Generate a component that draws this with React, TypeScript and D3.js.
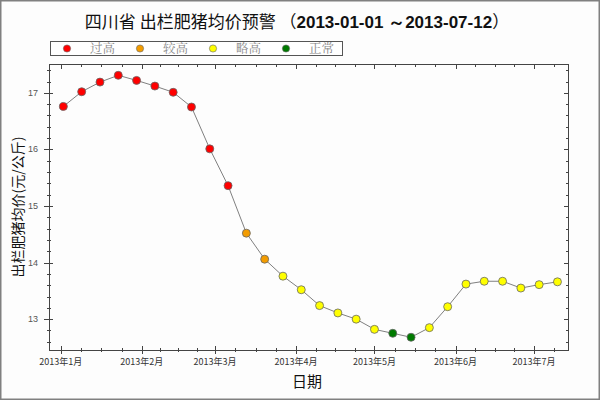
import React, { useEffect, useRef } from 'react';
import * as d3 from 'd3';

// weekly average price of slaughter pigs, Sichuan
const dates = [
  '2013-01-02', '2013-01-09', '2013-01-16', '2013-01-23', '2013-01-30',
  '2013-02-06', '2013-02-13', '2013-02-20', '2013-02-27', '2013-03-06',
  '2013-03-13', '2013-03-20', '2013-03-27', '2013-04-03', '2013-04-10',
  '2013-04-17', '2013-04-24', '2013-05-01', '2013-05-08', '2013-05-15',
  '2013-05-22', '2013-05-29', '2013-06-05', '2013-06-12', '2013-06-19',
  '2013-06-26', '2013-07-03', '2013-07-10'
];
const prices = [
  16.76, 17.02, 17.19, 17.31, 17.22, 17.12, 17.01, 16.75, 16.01, 15.36,
  14.52, 14.06, 13.76, 13.52, 13.24, 13.11, 13.00, 12.82, 12.75, 12.68,
  12.85, 13.22, 13.62, 13.67, 13.67, 13.55, 13.61, 13.66
];
const levels = [
  '过高', '过高', '过高', '过高', '过高', '过高', '过高', '过高', '过高', '过高',
  '较高', '较高', '略高', '略高', '略高', '略高', '略高', '略高', '正常', '正常',
  '略高', '略高', '略高', '略高', '略高', '略高', '略高', '略高'
];
const legendLabels = ['过高', '较高', '略高', '正常'];
const legendColors = ['#ff0000', '#f39c00', '#ffff00', '#007a00'];
const monthLabels = ['2013年1月', '2013年2月', '2013年3月', '2013年4月', '2013年5月', '2013年6月', '2013年7月'];
const yTicks = [13, 14, 15, 16, 17];

const W = 600, H = 400;
const left = 49, right = 569, top = 64, bottom = 350;
const cjk = '"Noto Sans CJK SC", "Liberation Sans", sans-serif';

export default function App() {
  const ref = useRef<SVGSVGElement>(null);

  useEffect(() => {
    const svg = d3.select(ref.current);
    svg.selectAll('*').remove();

    const x = d3.scaleUtc()
      .domain([new Date(Date.UTC(2012, 11, 27, 12)), new Date(Date.UTC(2013, 6, 14, 10))])
      .range([left, right]);
    const y = d3.scaleLinear().domain([12.455, 17.51]).range([bottom, top]);
    const color = d3.scaleOrdinal<string, string>().domain(legendLabels).range(legendColors);

    svg.append('rect')
      .attr('x', 0.75).attr('y', 0.75).attr('width', W - 1.5).attr('height', H - 1.5)
      .attr('fill', '#fdfdfd').attr('stroke', '#808080').attr('stroke-width', 1.5);

    // title
    const title = svg.append('text')
      .attr('x', 297).attr('y', 28).attr('text-anchor', 'middle')
      .attr('font-size', 17).attr('fill', '#111');
    title.append('tspan').attr('font-family', cjk).text('四川省 出栏肥猪均价预警 （');
    title.append('tspan').attr('font-family', '"Liberation Sans", Arial, sans-serif')
      .attr('font-weight', 'bold').text('2013-01-01 ～2013-07-12');
    title.append('tspan').attr('font-family', cjk).text('）');

    // legend
    const lg = svg.append('g');
    lg.append('rect')
      .attr('x', 50.5).attr('y', 41.5).attr('width', 292).attr('height', 14)
      .attr('fill', '#fff').attr('stroke', '#555');
    const item = lg.selectAll('g.item').data(legendLabels).enter().append('g')
      .attr('transform', (d, i) => `translate(${67 + i * 73},48.5)`);
    item.append('circle').attr('r', 3.6)
      .attr('fill', d => color(d)).attr('stroke', '#666').attr('stroke-width', 0.6);
    item.append('text').attr('x', 23).attr('y', 4.5)
      .attr('font-family', '"Noto Serif CJK SC", "Noto Sans CJK SC", serif')
      .attr('font-size', 12.5).attr('fill', '#888').text(d => d);

    // ticks
    const months = d3.utcMonth.range(new Date(Date.UTC(2012, 11, 1)), new Date(Date.UTC(2013, 7, 1)));
    const minorX: Date[] = [];
    months.forEach(m => {
      const next = d3.utcMonth.offset(m, 1);
      const len = +next - +m;
      for (let k = 1; k < 4; k++) minorX.push(new Date(+m + len * k / 4));
    });
    const [d0, d1] = x.domain();
    const majorX = months.filter(m => m >= d0 && m <= d1);
    const minX = minorX.filter(m => m >= d0 && m <= d1);
    const minorY = d3.range(12.6, 17.5, 0.2).filter(v => Math.abs(v - Math.round(v)) > 0.05);

    const tk = svg.append('g').attr('stroke', '#444').attr('stroke-width', 1);
    // bottom
    tk.selectAll('line.bM').data(majorX).enter().append('line')
      .attr('x1', d => Math.round(x(d)) + 0.5).attr('x2', d => Math.round(x(d)) + 0.5)
      .attr('y1', bottom - 4).attr('y2', bottom + 4);
    tk.selectAll('line.bm').data(minX).enter().append('line')
      .attr('x1', d => Math.round(x(d)) + 0.5).attr('x2', d => Math.round(x(d)) + 0.5)
      .attr('y1', bottom - 2).attr('y2', bottom + 2);
    // top
    tk.selectAll('line.tM').data(majorX).enter().append('line')
      .attr('x1', d => Math.round(x(d)) + 0.5).attr('x2', d => Math.round(x(d)) + 0.5)
      .attr('y1', top).attr('y2', top + 5);
    tk.selectAll('line.tm').data(minX).enter().append('line')
      .attr('x1', d => Math.round(x(d)) + 0.5).attr('x2', d => Math.round(x(d)) + 0.5)
      .attr('y1', top).attr('y2', top + 3);
    // left
    tk.selectAll('line.lM').data(yTicks).enter().append('line')
      .attr('y1', d => Math.round(y(d)) + 0.5).attr('y2', d => Math.round(y(d)) + 0.5)
      .attr('x1', left - 5).attr('x2', left + 4);
    tk.selectAll('line.lm').data(minorY).enter().append('line')
      .attr('y1', d => Math.round(y(d)) + 0.5).attr('y2', d => Math.round(y(d)) + 0.5)
      .attr('x1', left - 2).attr('x2', left + 2);
    // right
    tk.selectAll('line.rM').data(yTicks).enter().append('line')
      .attr('y1', d => Math.round(y(d)) + 0.5).attr('y2', d => Math.round(y(d)) + 0.5)
      .attr('x1', right - 5).attr('x2', right);
    tk.selectAll('line.rm').data(minorY).enter().append('line')
      .attr('y1', d => Math.round(y(d)) + 0.5).attr('y2', d => Math.round(y(d)) + 0.5)
      .attr('x1', right - 3).attr('x2', right);

    // frame
    svg.append('rect')
      .attr('x', left + 0.5).attr('y', top + 0.5)
      .attr('width', right - left - 1).attr('height', bottom - top)
      .attr('fill', 'none').attr('stroke', '#444');

    // tick labels
    svg.selectAll('text.xl').data(majorX).enter().append('text')
      .attr('x', d => x(d)).attr('y', bottom + 15).attr('text-anchor', 'middle')
      .attr('font-family', cjk).attr('font-size', 9).attr('fill', '#333')
      .text((d, i) => monthLabels[i]);
    svg.selectAll('text.yl').data(yTicks).enter().append('text')
      .attr('x', left - 11).attr('y', d => y(d) + 3).attr('text-anchor', 'end')
      .attr('font-family', '"Liberation Sans", Arial, sans-serif').attr('font-size', 9)
      .attr('fill', '#555').text(d => d);

    // axis titles
    svg.append('text')
      .attr('x', (left + right) / 2 - 2).attr('y', 387).attr('text-anchor', 'middle')
      .attr('font-family', cjk).attr('font-size', 15).attr('fill', '#111').text('日期');
    svg.append('text')
      .attr('transform', `translate(23,${(top + bottom) / 2}) rotate(-90)`)
      .attr('text-anchor', 'middle')
      .attr('font-family', cjk).attr('font-size', 14).attr('fill', '#111').text('出栏肥猪均价(元/公斤)');

    // line + points
    const pts = dates.map((d, i) => ({ date: new Date(d + 'T00:00:00Z'), price: prices[i], level: levels[i] }));
    const line = d3.line<any>().x(d => x(d.date)).y(d => y(d.price));
    svg.append('path').datum(pts)
      .attr('d', line).attr('fill', 'none').attr('stroke', '#808080').attr('stroke-width', 1);
    svg.selectAll('circle.pt').data(pts).enter().append('circle')
      .attr('cx', d => x(d.date)).attr('cy', d => y(d.price)).attr('r', 4)
      .attr('fill', d => color(d.level)).attr('stroke', '#666').attr('stroke-width', 0.8);
  }, []);

  return (
    <div style={{ position: 'absolute', left: 0, top: 0 }}>
      <svg ref={ref} width={W} height={H} style={{ display: 'block' }} />
    </div>
  );
}
